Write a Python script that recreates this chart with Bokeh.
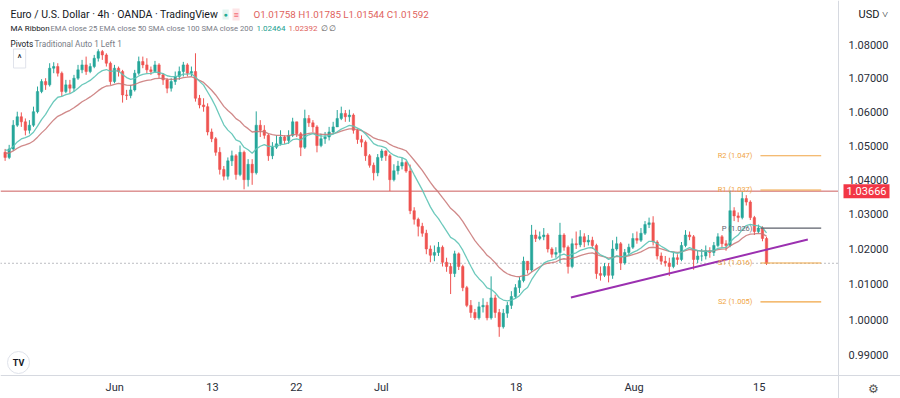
import math
from bokeh.plotting import figure
from bokeh.models import Range1d, FixedTicker, PrintfTickFormatter, Label, ColumnDataSource
from bokeh.core.properties import value
from bokeh.embed import file_html
from bokeh.resources import INLINE

# ---------------- data: EUR/USD, 8-hour candles ----------------
first_day = -10         # 18 May, counted in trading days from 1 June (3 candles per day)
first_slot = 2          # the series starts with the last 8-hour candle of 18 May
first_open = 1.0480

close_px = [
    1.0465,                  # May 18
    1.0490, 1.0560, 1.0585,  # May 19
    1.0570, 1.0545, 1.0560,  # May 20
    1.0600, 1.0660, 1.0690,  # May 23
    1.0680, 1.0730, 1.0735,  # May 24
    1.0715, 1.0660, 1.0680,  # May 25
    1.0670, 1.0700, 1.0725,  # May 26
    1.0740, 1.0720, 1.0735,  # May 27
    1.0760, 1.0780, 1.0770,  # May 30
    1.0745, 1.0690, 1.0730,  # May 31
    1.0720, 1.0650, 1.0648,  # Jun 1
    1.0665, 1.0715, 1.0750,  # Jun 2
    1.0740, 1.0725, 1.0720,  # Jun 3
    1.0740, 1.0710, 1.0695,  # Jun 6
    1.0670, 1.0690, 1.0705,  # Jun 7
    1.0720, 1.0740, 1.0715,  # Jun 8
    1.0720, 1.0640, 1.0620,  # Jun 9
    1.0615, 1.0540, 1.0520,  # Jun 10
    1.0480, 1.0430, 1.0410,  # Jun 13
    1.0455, 1.0470, 1.0415,  # Jun 14
    1.0480, 1.0400, 1.0445,  # Jun 15
    1.0420, 1.0560, 1.0545,  # Jun 16
    1.0530, 1.0470, 1.0495,  # Jun 17
    1.0505, 1.0525, 1.0515,  # Jun 20
    1.0530, 1.0570, 1.0535,  # Jun 21
    1.0495, 1.0580, 1.0567,  # Jun 22
    1.0555, 1.0500, 1.0520,  # Jun 23
    1.0525, 1.0540, 1.0555,  # Jun 24
    1.0580, 1.0595, 1.0585,  # Jun 27
    1.0590, 1.0545, 1.0518,  # Jun 28
    1.0510, 1.0470, 1.0442,  # Jun 29
    1.0420, 1.0465, 1.0484,  # Jun 30
    1.0470, 1.0400, 1.0426,  # Jul 1
    1.0440, 1.0450, 1.0425,  # Jul 4
    1.0310, 1.0285, 1.0265,  # Jul 5
    1.0245, 1.0200, 1.0182,  # Jul 6
    1.0190, 1.0205, 1.0162,  # Jul 7
    1.0150, 1.0130, 1.0186,  # Jul 8
    1.0150, 1.0090, 1.0040,  # Jul 11
    1.0020, 1.0005, 1.0036,  # Jul 12
    1.0040, 1.0005, 1.0061,  # Jul 13
    1.0020, 0.9980, 1.0018,  # Jul 14
    1.0040, 1.0065, 1.0090,  # Jul 15
    1.0110, 1.0165, 1.0140,  # Jul 18
    1.0240, 1.0230, 1.0235,  # Jul 19
    1.0240, 1.0200, 1.0185,  # Jul 20
    1.0190, 1.0240, 1.0205,  # Jul 21
    1.0150, 1.0215, 1.0212,  # Jul 22
    1.0235, 1.0220, 1.0225,  # Jul 25
    1.0210, 1.0130, 1.0125,  # Jul 26
    1.0150, 1.0125, 1.0200,  # Jul 27
    1.0215, 1.0160, 1.0190,  # Jul 28
    1.0205, 1.0230, 1.0225,  # Jul 29
    1.0245, 1.0270, 1.0275,  # Aug 1
    1.0220, 1.0180, 1.0165,  # Aug 2
    1.0160, 1.0150, 1.0175,  # Aug 3
    1.0170, 1.0210, 1.0240,  # Aug 4
    1.0235, 1.0170, 1.0180,  # Aug 5
    1.0180, 1.0195, 1.0190,  # Aug 8
    1.0210, 1.0235, 1.0215,  # Aug 9
    1.0210, 1.0310, 1.0295,  # Aug 10
    1.0290, 1.0345, 1.0335,  # Aug 11
    1.0290, 1.0250, 1.0260,  # Aug 12
    1.0230, 1.01592,         # Aug 15
]

high_px = [
    1.0490,                  # May 18
    1.0502, 1.0575, 1.0600,  # May 19
    1.0598, 1.0580, 1.0575,  # May 20
    1.0615, 1.0675, 1.0697,  # May 23
    1.0700, 1.0745, 1.0748,  # May 24
    1.0745, 1.0720, 1.0695,  # May 25
    1.0695, 1.0710, 1.0740,  # May 26
    1.0755, 1.0765, 1.0745,  # May 27
    1.0770, 1.0787, 1.0785,  # May 30
    1.0775, 1.0750, 1.0740,  # May 31
    1.0735, 1.0725, 1.0665,  # Jun 1
    1.0680, 1.0725, 1.0765,  # Jun 2
    1.0765, 1.0760, 1.0735,  # Jun 3
    1.0752, 1.0745, 1.0715,  # Jun 6
    1.0700, 1.0700, 1.0720,  # Jun 7
    1.0735, 1.0749, 1.0745,  # Jun 8
    1.0735, 1.0775, 1.0650,  # Jun 9
    1.0640, 1.0625, 1.0550,  # Jun 10
    1.0525, 1.0495, 1.0440,  # Jun 13
    1.0465, 1.0485, 1.0475,  # Jun 14
    1.0500, 1.0485, 1.0460,  # Jun 15
    1.0460, 1.0601, 1.0575,  # Jun 16
    1.0560, 1.0535, 1.0510,  # Jun 17
    1.0530, 1.0545, 1.0530,  # Jun 20
    1.0545, 1.0582, 1.0565,  # Jun 21
    1.0540, 1.0606, 1.0590,  # Jun 22
    1.0575, 1.0560, 1.0535,  # Jun 23
    1.0540, 1.0555, 1.0570,  # Jun 24
    1.0605, 1.0615, 1.0605,  # Jun 27
    1.0606, 1.0595, 1.0550,  # Jun 28
    1.0530, 1.0515, 1.0475,  # Jun 29
    1.0450, 1.0475, 1.0490,  # Jun 30
    1.0486, 1.0475, 1.0445,  # Jul 1
    1.0455, 1.0464, 1.0455,  # Jul 4
    1.0444, 1.0320, 1.0290,  # Jul 5
    1.0275, 1.0255, 1.0210,  # Jul 6
    1.0210, 1.0220, 1.0210,  # Jul 7
    1.0175, 1.0160, 1.0195,  # Jul 8
    1.0190, 1.0155, 1.0095,  # Jul 11
    1.0055, 1.0030, 1.0050,  # Jul 12
    1.0060, 1.0050, 1.0122,  # Jul 13
    1.0070, 1.0030, 1.0030,  # Jul 14
    1.0050, 1.0080, 1.0100,  # Jul 15
    1.0120, 1.0178, 1.0165,  # Jul 18
    1.0269, 1.0255, 1.0250,  # Jul 19
    1.0260, 1.0245, 1.0205,  # Jul 20
    1.0205, 1.0275, 1.0245,  # Jul 21
    1.0210, 1.0230, 1.0250,  # Jul 22
    1.0254, 1.0245, 1.0240,  # Jul 25
    1.0235, 1.0215, 1.0150,  # Jul 26
    1.0160, 1.0160, 1.0225,  # Jul 27
    1.0235, 1.0220, 1.0200,  # Jul 28
    1.0215, 1.0245, 1.0250,  # Jul 29
    1.0260, 1.0280, 1.0290,  # Aug 1
    1.0294, 1.0225, 1.0190,  # Aug 2
    1.0180, 1.0175, 1.0190,  # Aug 3
    1.0185, 1.0220, 1.0254,  # Aug 4
    1.0250, 1.0240, 1.0195,  # Aug 5
    1.0200, 1.0210, 1.0205,  # Aug 8
    1.0220, 1.0245, 1.0240,  # Aug 9
    1.0225, 1.0368, 1.0320,  # Aug 10
    1.0305, 1.0364, 1.0355,  # Aug 11
    1.0340, 1.0295, 1.0270,  # Aug 12
    1.0265, 1.0235,          # Aug 15
]

low_px = [
    1.0455,                  # May 18
    1.0460, 1.0485, 1.0555,  # May 19
    1.0555, 1.0530, 1.0535,  # May 20
    1.0555, 1.0595, 1.0655,  # May 23
    1.0665, 1.0675, 1.0715,  # May 24
    1.0705, 1.0645, 1.0655,  # May 25
    1.0655, 1.0660, 1.0695,  # May 26
    1.0715, 1.0710, 1.0715,  # May 27
    1.0730, 1.0750, 1.0755,  # May 30
    1.0735, 1.0680, 1.0685,  # May 31
    1.0705, 1.0627, 1.0635,  # Jun 1
    1.0640, 1.0660, 1.0710,  # Jun 2
    1.0730, 1.0715, 1.0710,  # Jun 3
    1.0718, 1.0700, 1.0680,  # Jun 6
    1.0655, 1.0660, 1.0680,  # Jun 7
    1.0695, 1.0705, 1.0705,  # Jun 8
    1.0705, 1.0630, 1.0610,  # Jun 9
    1.0600, 1.0530, 1.0510,  # Jun 10
    1.0470, 1.0415, 1.0398,  # Jun 13
    1.0400, 1.0440, 1.0400,  # Jun 14
    1.0410, 1.0372, 1.0380,  # Jun 15
    1.0385, 1.0415, 1.0525,  # Jun 16
    1.0520, 1.0455, 1.0460,  # Jun 17
    1.0490, 1.0500, 1.0505,  # Jun 20
    1.0505, 1.0525, 1.0525,  # Jun 21
    1.0469, 1.0490, 1.0555,  # Jun 22
    1.0540, 1.0480, 1.0495,  # Jun 23
    1.0505, 1.0515, 1.0535,  # Jun 24
    1.0555, 1.0575, 1.0570,  # Jun 27
    1.0570, 1.0535, 1.0505,  # Jun 28
    1.0495, 1.0455, 1.0435,  # Jun 29
    1.0398, 1.0410, 1.0455,  # Jun 30
    1.0455, 1.0367, 1.0395,  # Jul 1
    1.0415, 1.0430, 1.0420,  # Jul 4
    1.0300, 1.0270, 1.0236,  # Jul 5
    1.0235, 1.0185, 1.0162,  # Jul 6
    1.0165, 1.0180, 1.0150,  # Jul 7
    1.0135, 1.0072, 1.0120,  # Jul 8
    1.0140, 1.0080, 1.0035,  # Jul 11
    1.0005, 0.9999, 1.0000,  # Jul 12
    1.0020, 0.9998, 1.0000,  # Jul 13
    1.0005, 0.9952, 0.9975,  # Jul 14
    1.0005, 1.0030, 1.0060,  # Jul 15
    1.0075, 1.0105, 1.0130,  # Jul 18
    1.0135, 1.0220, 1.0225,  # Jul 19
    1.0225, 1.0190, 1.0175,  # Jul 20
    1.0175, 1.0160, 1.0195,  # Jul 21
    1.0130, 1.0145, 1.0200,  # Jul 22
    1.0205, 1.0205, 1.0210,  # Jul 25
    1.0200, 1.0115, 1.0110,  # Jul 26
    1.0120, 1.0105, 1.0115,  # Jul 27
    1.0195, 1.0140, 1.0155,  # Jul 28
    1.0180, 1.0200, 1.0215,  # Jul 29
    1.0220, 1.0240, 1.0260,  # Aug 1
    1.0210, 1.0170, 1.0155,  # Aug 2
    1.0150, 1.0123, 1.0145,  # Aug 3
    1.0155, 1.0165, 1.0205,  # Aug 4
    1.0225, 1.0141, 1.0160,  # Aug 5
    1.0165, 1.0170, 1.0175,  # Aug 8
    1.0180, 1.0205, 1.0205,  # Aug 9
    1.0195, 1.0205, 1.0280,  # Aug 10
    1.0277, 1.0285, 1.0325,  # Aug 11
    1.0283, 1.0240, 1.0245,  # Aug 12
    1.0222, 1.01544,         # Aug 15
]

tick_days = [-0.15, 7.9, 14.8, 21.8, 32.9, 42.6, 52.9]
tick_labels = ["Jun", "13", "22", "Jul", "18", "Aug", "15"]
price_ticks = [0.99, 1.00, 1.01, 1.02, 1.03, 1.04, 1.05, 1.06, 1.07, 1.08]

hline_price = 1.03666
last_price = 1.01592
ema_fast_start = 1.0490
ema_slow_start = 1.0478

pivot_names = ["R2", "R1", "P", "S1", "S2"]
pivot_levels = [1.047, 1.037, 1.026, 1.016, 1.005]
pivot_days = [53, 58]

trend_days = [37.4, 56.9]
trend_prices = [1.0062, 1.0227]

# ---------------- derived series ----------------
n = len(close_px)
open_px = [first_open] + close_px[:-1]
slots = [first_slot + k for k in range(n)]
xs = [first_day + s // 3 + (s % 3 + 0.5) / 3 for s in slots]
hi = [max(h, o, c) for h, o, c in zip(high_px, open_px, close_px)]
lo = [min(l, o, c) for l, o, c in zip(low_px, open_px, close_px)]
UP, DOWN = "#26a69a", "#ef5350"
colors = [UP if c >= o else DOWN for o, c in zip(open_px, close_px)]


def ema(series, start, period4h):
    a = 1 - (1 - 2 / (period4h + 1)) ** 2   # 4h EMA expressed on 8h bars
    out, e = [], start
    for v in series:
        e = e + a * (v - e)
        out.append(e)
    return out


ema_fast = ema(close_px, ema_fast_start, 25)
ema_slow = ema(close_px, ema_slow_start, 50)

# ---------------- figure (frame = whole canvas, axes pinned inside) ----------------
W, H = 900, 398
X0, X1 = -9.547, 64.527
Y0, Y1 = 0.978142, 1.093552
AXIS_X = 59.424      # day position of the price-scale separator
AXIS_Y = 0.984467    # price position of the time-scale separator

p = figure(width=W, height=H, output_backend="svg", toolbar_location=None,
           x_range=Range1d(X0, X1), y_range=Range1d(Y0, Y1), y_axis_type="log",
           y_axis_location="right", min_border=0)
p.outline_line_color = None
p.background_fill_color = "white"
p.border_fill_color = "white"
p.xgrid.grid_line_color = None
p.ygrid.grid_line_color = None


def sx(px):
    return X0 + px * (X1 - X0) / W


def sy(py):
    return math.exp(math.log(Y1) - py * (math.log(Y1) - math.log(Y0)) / H)


# axes
p.yaxis.fixed_location = AXIS_X
p.xaxis.fixed_location = AXIS_Y
p.yaxis.ticker = FixedTicker(ticks=price_ticks)
p.yaxis.formatter = PrintfTickFormatter(format="%.5f")
p.xaxis.ticker = FixedTicker(ticks=tick_days)
p.xaxis.major_label_overrides = {d: t for d, t in zip(tick_days, tick_labels)}
for ax in (p.xaxis[0], p.yaxis[0]):
    ax.axis_line_color = "#d6d9e0"
    ax.major_tick_line_color = None
    ax.minor_tick_line_color = None
    ax.major_tick_out = 0
    ax.major_tick_in = 0
    ax.minor_tick_out = 0
    ax.major_label_text_font = "Roboto"
    ax.major_label_text_font_size = "11px"
    ax.major_label_text_color = "#2a2e39"
p.yaxis.major_label_standoff = 10
p.xaxis.major_label_standoff = 6

# horizontal lines (stop at the price scale)
p.segment(x0=[X0], y0=[hline_price], x1=[AXIS_X], y1=[hline_price], line_color="#cc5d5d", line_width=1)
p.segment(x0=[X0], y0=[last_price], x1=[AXIS_X], y1=[last_price], line_color="#787b86",
          line_width=1, line_dash="1 3")

# candles
src = ColumnDataSource(dict(x=xs, h=hi, l=lo, color=colors,
                            top=[max(o, c) for o, c in zip(open_px, close_px)],
                            bot=[min(o, c) for o, c in zip(open_px, close_px)]))
p.segment(x0="x", y0="h", x1="x", y1="l", color="color", line_width=1, source=src)
p.vbar(x="x", width=0.2, top="top", bottom="bot", fill_color="color",
       line_color="color", line_width=0.5, source=src)

# moving averages
p.line(xs, ema_slow, line_color="#c87474", line_width=1.3, line_alpha=0.85)
p.line(xs, ema_fast, line_color="#5cc3b5", line_width=1.3, line_alpha=0.9)

# trend line
p.line(trend_days, trend_prices, line_color="#9b30b0", line_width=2)

# weekly pivots
piv_colors = ["#f0a545", "#f0a545", "#5d606b", "#f0a545", "#f0a545"]
for lvl, c in zip(pivot_levels, piv_colors):
    p.line(pivot_days, [lvl, lvl], line_color=c, line_width=1.2)
p.text(x=[pivot_days[0] - 0.66] * len(pivot_levels), y=pivot_levels,
       text=[f"{nm} ({lv:.3f})" for nm, lv in zip(pivot_names, pivot_levels)],
       text_color=piv_colors, text_align="right", text_baseline="middle",
       text_font=value("Roboto"), text_font_size="7.5px")


# ---------------- legend / chrome texts ----------------
def lab(px, py, text, size="8px", color="#787b86", font="Roboto", style="normal", **kw):
    l = Label(x=sx(px), y=sy(py), text=text, text_font=font, text_font_size=size,
              text_color=color, text_baseline="middle", text_font_style=style, **kw)
    p.add_layout(l)
    return l


lab(10, 14, "Euro / U.S. Dollar · 4h · OANDA · TradingView", size="10.5px", color="#131722")
lab(222, 14, "●", size="7px", color="#22ab94", background_fill_color="#e3f5f1", padding=1)
lab(232, 14, "≡", size="9px", color="#f23645", background_fill_color="#fde4e6", padding=1)
lab(253, 14, "O1.01758 H1.01785 L1.01544 C1.01592", size="9.8px", color="#e0625c")
lab(10, 28, "MA Ribbon", size="8px", color="#131722")
lab(50, 28, "EMA close 25 EMA close 50 SMA close 100 SMA close 200", size="7.7px")
lab(256, 28, "1.02464", size="8px", color="#22a08f")
lab(288, 28, "1.02392", size="8px", color="#e0625c")
lab(320, 28, "∅ ∅", size="8px", color="#555555")
lab(10, 43, "Pivots", size="8.2px", color="#131722")
lab(34, 43, "Traditional Auto 1 Left 1", size="8.2px")
lab(13, 58, "^", size="10px", color="#131722", border_line_color="#e0e3eb",
    background_fill_color="white", padding=4)

p.scatter(x=[sx(18)], y=[sy(362)], size=22, marker="circle", fill_color="white",
          line_color="#e0e3eb")
lab(18, 362, "TV", size="9px", color="#131722", style="bold", text_align="center")

lab(858, 14, "USD ˅", size="11px", color="#131722")
p.add_layout(Label(x=sx(843), y=hline_price, text="1.03666", text_font="Roboto",
                   text_font_size="11px", text_color="white", text_baseline="middle",
                   background_fill_color="#f23645", padding=3))
lab(873, 388, "⚙", size="12px", color="#555555", font="DejaVu Sans", text_align="center")

html = file_html(p, INLINE)
open("out.html", "w").write(html)
